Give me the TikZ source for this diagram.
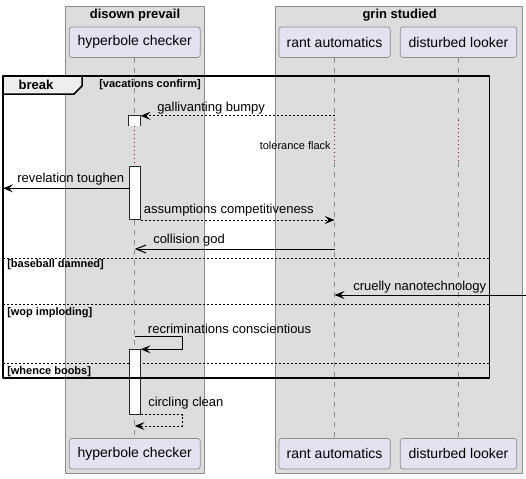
\documentclass[tikz,border=0pt]{standalone}
\usepackage{fontspec}
\setmainfont{Liberation Sans}
\usetikzlibrary{arrows.meta,positioning}
\definecolor{boxgray}{HTML}{DDDDDD}
\definecolor{boxline}{HTML}{8C8C8C}
\definecolor{partfill}{HTML}{E2E2F0}
\definecolor{tabfill}{HTML}{EEEEEE}
\definecolor{delayred}{HTML}{A80036}
\tikzset{
	part/.style={draw=boxline, fill=partfill, rounded corners=2pt, line width=0.5pt, minimum height=22.9pt, inner sep=0pt, font=\fontsize{10.5}{12}\selectfont},
	life/.style={draw=boxline, line width=0.5pt, dash pattern=on 3.75pt off 3.75pt},
	delay/.style={draw=delayred, line width=0.75pt, dash pattern=on 0.75pt off 2.25pt},
	act/.style={draw=black!85, fill=white, line width=0.75pt, minimum width=8pt, inner sep=0pt, anchor=north},
	msg/.style={line width=0.75pt, -{Stealth[length=7.5pt,width=6pt,inset=3pt]}},
	reply/.style={msg, dash pattern=on 1.5pt off 1.5pt},
	async/.style={line width=0.75pt, -{Straight Barb[length=7.5pt,width=6pt]}},
	lbl/.style={font=\fontsize{9.75}{11}\selectfont, inner sep=0pt},
	grptitle/.style={font=\bfseries\fontsize{9.75}{11}\selectfont, inner sep=0pt},
	guard/.style={font=\bfseries\fontsize{8.25}{10}\selectfont, inner sep=0pt, anchor=west},
	sep/.style={line width=0.75pt, dash pattern=on 1.5pt off 1.5pt},
}
\begin{document}
\begin{tikzpicture}[x=0.75pt, y=-0.75pt, line join=round]
	\useasboundingbox (0,0) rectangle (526,479);
	% boxes
	\draw[boxline, fill=boxgray, line width=0.75pt] (65.7,6) rectangle (204,473);
	\draw[boxline, fill=boxgray, line width=0.75pt] (275.3,6) rectangle (522.3,473);
	\node[grptitle] (dp) at (135,15) {disown prevail};
	\node[grptitle] (gs) at (399.7,15) {grin studied};
	% participants
	\node[part, minimum width=98.2pt] (hcT) at (134.7,42.2) {hyperbole checker};
	\node[part, minimum width=83.5pt] (raT) at (334.6,42.2) {rant automatics};
	\node[part, minimum width=87.3pt] (dlT) at (458.5,42.2) {disturbed looker};
	\node[part, minimum width=98.2pt] (hcB) at (134.7,453.7) {hyperbole checker};
	\node[part, minimum width=83.5pt] (raB) at (334.6,453.7) {rant automatics};
	\node[part, minimum width=87.3pt] (dlB) at (458.5,453.7) {disturbed looker};
	\node[inner sep=0pt, outer sep=0pt, minimum width=365pt, minimum height=226.5pt] (brkF) at (246.35,227) {};
	% activations
	\node[act, draw=none, minimum height=6.75pt] (a1) at (134.7,115.8) {};
	\node[act, minimum height=39.75pt] (a2) at (134.7,166) {};
	\node[act, minimum height=48.5pt] (a3) at (134.7,349.3) {};
	\coordinate (dA) at (0,120);
	\coordinate (dB) at (0,162);
	% lifelines
	\draw[life] (hcT) -- (a1.north);
	\draw[delay] (a1.south) -- (a2.north);
	\draw[life] (a2.south) -- (hcB);
	\foreach \p in {ra,dl}{
		\draw[life] (\p T) -- (\p T |- dA);
		\draw[delay] (\p T |- dA) -- (\p T |- dB);
		\draw[life] (\p T |- dB) -- (\p B);
	}
	% else lines
	\coordinate (s1) at (0,258);
	\coordinate (s2) at (0,304);
	\coordinate (s3) at (0,363.5);
	\foreach \s in {s1,s2,s3}
		\draw[sep] (brkF.west |- \s) -- (brkF.east |- \s);
	\node[guard] (g2) at (7,265) {[baseball damned]};
	\node[guard] (g3) at (7,312.5) {[wop imploding]};
	\node[guard] (g4) at (7,371.5) {[whence boobs]};
	\fill[white] (a1.north west) rectangle (a1.south east);
	\draw[black!85, line width=0.75pt] (a1.south west) -- (a1.north west) -- (a1.north east) -- (a1.south east);
	\node[act, minimum height=39.75pt] at (a2.north) {};
	\node[act, minimum height=48.5pt] at (a3.north) {};
	% messages
	\coordinate (y3) at (0,188.3);
	\coordinate (y5) at (0,249);
	\coordinate (y6) at (526,295);
	\coordinate (k7) at (182.3,336.7);
	\coordinate (k8) at (182.3,426);
	\draw[reply] (raT |- a1.north) -- (a1.north east);
	\node[lbl, right] (m1) at (157,108) {gallivanting bumpy};
	\node[font=\fontsize{8.25}{10}\selectfont, inner sep=0pt, left] (tf) at (331,145.7) {tolerance flack};
	\draw[msg] (a2.west |- y3) -- (brkF.west |- y3);
	\node[lbl, right] (m2) at (17,179) {revelation toughen};
	\draw[reply] (a2.south east) -- (raT |- a2.south);
	\node[lbl, right] (m3) at (143.7,210) {assumptions competitiveness};
	\draw[async] (raT |- y5) -- (hcT |- y5);
	\node[lbl, right] (m4) at (153,240) {collision god};
	\draw[msg] (y6) -- (raT |- y6);
	\node[lbl, right] (m5) at (353,286.7) {cruelly nanotechnology};
	\draw[msg] (hcT |- k7) -- (k7) |- (a3.north east);
	\node[lbl, right] (m6) at (147.7,329) {recriminations conscientious};
	\draw[reply] (a3.south east) -| (k8) -- (hcT |- k8);
	\node[lbl, right] (m7) at (148,403) {circling clean};
	% break frame
	\draw[line width=1.125pt] (brkF.north west) rectangle (brkF.south east);
	\draw[line width=1.125pt, fill=tabfill] (brkF.north west) -- (82,76) -- (82,86) -- (74,94) -- (3,94) -- cycle;
	\node[grptitle] (brk) at (36,85) {break};
	\node[guard] (g1) at (99,85) {[vacations confirm]};
\end{tikzpicture}
\end{document}
